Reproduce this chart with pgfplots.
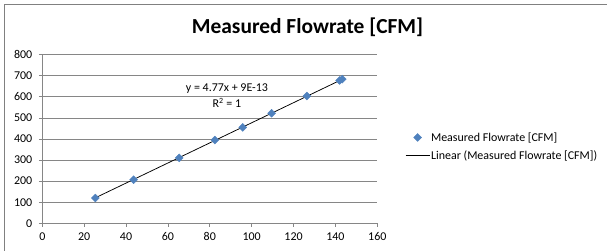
\documentclass[border=0pt]{standalone}
\usepackage{pgfplots}
\pgfplotsset{compat=1.18}
\usepackage{fontspec}
\setmainfont{Carlito}
\definecolor{gridgray}{RGB}{134,134,134}
\definecolor{framegray}{RGB}{128,128,128}
\definecolor{exblue}{RGB}{79,129,189}
\begin{document}
\begin{tikzpicture}
\useasboundingbox (0,0) rectangle (607bp,251bp);
\draw[framegray, line width=1.2bp] (4.8bp,0) -- (4.8bp,246.6bp) -- (607bp,246.6bp);
\node[font=\fontsize{21.5}{25}\selectfont\bfseries] at (307.5bp,224bp) {Measured Flowrate [CFM]};
\begin{axis}[
  at={(42.3bp,27.7bp)}, anchor=south west,
  scale only axis, width=335bp, height=168.6bp,
  xmin=0, xmax=160, ymin=0, ymax=800,
  xtick={0,20,...,160}, ytick={0,100,...,800},
  axis x line*=bottom, axis y line*=left,
  ymajorgrids, grid style={draw=gridgray, line width=0.75bp},
  axis line style={draw=gridgray, line width=0.75bp},
  tick style={draw=gridgray, line width=0.75bp},
  tick align=outside, major tick length=3.5bp,
  /pgf/number format/assume math mode=true,
  ticklabel style={font=\fontsize{12}{14}\selectfont},
  xticklabel style={yshift=-2bp},
  yticklabel style={xshift=-3bp},
  clip=false,
  legend style={at={(1.083,0.455)}, anchor=west, draw=none, fill=none,
    font=\fontsize{12}{14}\selectfont, inner sep=0pt, row sep=6bp,
    nodes={inner sep=1bp}},
  legend cell align=left,
  legend image code/.code={\draw[mark repeat=2,mark phase=2] plot coordinates {(0bp,0bp)(12bp,0bp)(24bp,0bp)};},
]
\addplot[only marks, mark=square*, mark size=2.8bp, mark options={rotate=45, fill=exblue, draw=exblue}, color=exblue]
coordinates {(25.3,120) (43.6,207) (65.4,310) (82.4,395) (95.7,455) (109.5,522) (126.4,604) (142.0,678) (143.3,684)};
\addlegendentry{Measured Flowrate [CFM]}
\addplot[black, line width=0.75bp, mark=none] coordinates {(25.3,120.7) (143.3,683.5)};
\addlegendentry{Linear (Measured Flowrate [CFM])}
\node[font=\fontsize{12}{14}\selectfont] at (axis cs:88.2,638) {y = 4.77x + 9E-13};
\node[font=\fontsize{12}{14}\selectfont] at (axis cs:88.2,572) {R\textsuperscript{2} = 1};
\end{axis}
\end{tikzpicture}
\end{document}
